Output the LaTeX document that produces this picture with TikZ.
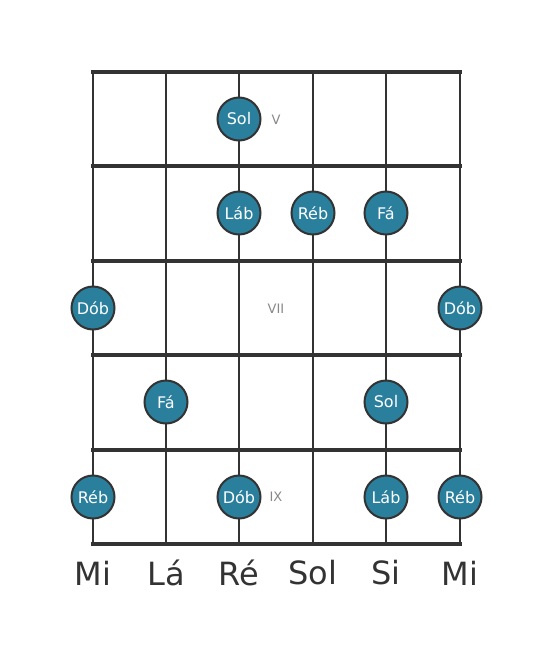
\documentclass[tikz,border=0pt]{standalone}
\usepackage{fontspec}
\setmainfont{DejaVu Sans}
\definecolor{notefill}{HTML}{2A7F9D}
\definecolor{gridline}{HTML}{333333}
\definecolor{fretno}{HTML}{888888}

\begin{document}
\begin{tikzpicture}
[x=1pt,y=-1pt,fretline/.style={gridline,line width=4pt,line cap=rect},stringline/.style={gridline,line width=2.6pt},note/.style={circle,draw=gridline,line width=2pt,fill=notefill,text=white,minimum size=43pt,inner sep=0pt,font=\fontsize{16}{17}\selectfont},fretnum/.style={fretno,font=\fontsize{13}{14}\selectfont},stringname/.style={gridline,font=\fontsize{32}{34}\selectfont}]

\useasboundingbox (0,0) rectangle (553,656);

% string ends
\coordinate (s1t) at (93,72);  \coordinate (s1b) at (93,544);
\coordinate (s2t) at (166,72); \coordinate (s2b) at (166,544);
\coordinate (s3t) at (239,72); \coordinate (s3b) at (239,544);
\coordinate (s4t) at (313,72); \coordinate (s4b) at (313,544);
\coordinate (s5t) at (386,72); \coordinate (s5b) at (386,544);
\coordinate (s6t) at (460,72); \coordinate (s6b) at (460,544);

% strings
\draw[stringline] (s1t) -- (s1b);
\draw[stringline] (s2t) -- (s2b);
\draw[stringline] (s3t) -- (s3b);
\draw[stringline] (s4t) -- (s4b);
\draw[stringline] (s5t) -- (s5b);
\draw[stringline] (s6t) -- (s6b);

% fret ends
\coordinate (f0l) at (93,72);  \coordinate (f0r) at (460,72);
\coordinate (f1l) at (93,166); \coordinate (f1r) at (460,166);
\coordinate (f2l) at (93,261); \coordinate (f2r) at (460,261);
\coordinate (f3l) at (93,355); \coordinate (f3r) at (460,355);
\coordinate (f4l) at (93,450); \coordinate (f4r) at (460,450);
\coordinate (f5l) at (93,544); \coordinate (f5r) at (460,544);

% frets
\draw[fretline] (f0l) -- (f0r);
\draw[fretline] (f1l) -- (f1r);
\draw[fretline] (f2l) -- (f2r);
\draw[fretline] (f3l) -- (f3r);
\draw[fretline] (f4l) -- (f4r);
\draw[fretline] (f5l) -- (f5r);

% fret numbers
\node[fretnum](fretV) at (276,120){V};
\node[fretnum](fretVII) at (276,309){VII};
\node[fretnum](fretIX) at (276,497){IX};

% fret V
\node[note](solV) at (239,119){Sol};

% fret VI
\node[note](labVI) at (239,213){Láb};
\node[note](rebVI) at (313,213){Réb};
\node[note](faVI) at (386,213){Fá};

% fret VII
\node[note](dobVIIa) at (93,308){Dób};
\node[note](dobVIIb) at (460,308){Dób};

% fret VIII
\node[note](faVIII) at (166,402){Fá};
\node[note](solVIII) at (386,402){Sol};

% fret IX
\node[note](rebIXa) at (93,497){Réb};
\node[note](dobIX) at (239,497){Dób};
\node[note](labIX) at (386,497){Láb};
\node[note](rebIXb) at (460,497){Réb};

% string names
\node[stringname](nameMiLow) at (93,573){Mi};
\node[stringname](nameLa) at (166,573){Lá};
\node[stringname](nameRe) at (239,573){Ré};
\node[stringname](nameSol) at (313,573){Sol};
\node[stringname](nameSi) at (386,573){Si};
\node[stringname](nameMiHigh) at (460,573){Mi};

\end{tikzpicture}
\end{document}
